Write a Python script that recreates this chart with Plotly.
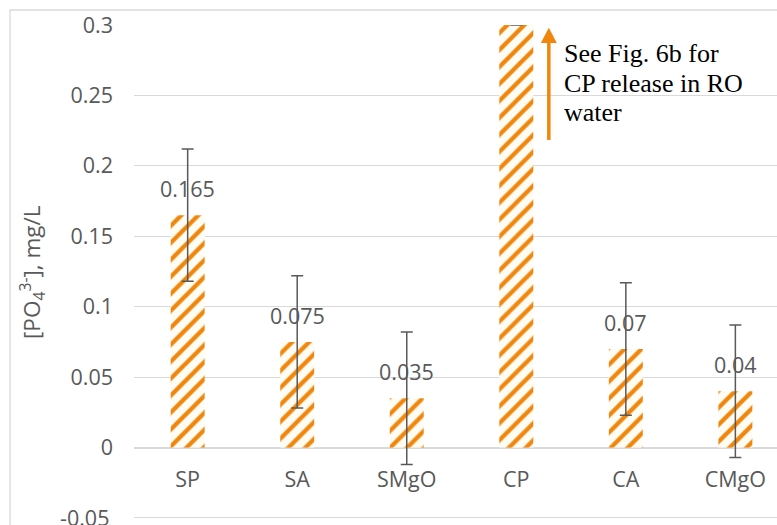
import plotly.graph_objects as go

# Phosphate release per sample type
categories = ["SP", "SA", "SMgO", "CP", "CA", "CMgO"]
po4_values = [0.165, 0.075, 0.035, 0.3, 0.07, 0.04]
po4_error = [0.047, 0.047, 0.047, None, 0.047, 0.047]
value_labels = ["0.165", "0.075", "0.035", None, "0.07", "0.04"]

y_tickvals = [-0.05, 0, 0.05, 0.1, 0.15, 0.2, 0.25, 0.3]
y_ticktext = ["-0.05", "0", "0.05", "0.1", "0.15", "0.2", "0.25", "0.3"]

note_lines = ["See Fig. 6b for", "CP release in RO", "water"]

ORANGE = "#F0860C"
GREY_TEXT = "#595959"
GRID = "#D9D9D9"
FONT = "Open Sans"
Y_MIN, Y_MAX = -0.055, 0.3
TICK_FONT = dict(family=FONT, size=21.5, color=GREY_TEXT)

fig = go.Figure()

fig.add_trace(go.Bar(
    x=list(range(len(categories))),
    y=po4_values,
    width=0.31,
    marker=dict(
        color="#FFFDF3",
        line=dict(width=0),
        pattern=dict(shape="/", size=12, solidity=0.36,
                     fgcolor=ORANGE, bgcolor="#FFFDF3", fillmode="replace"),
    ),
    error_y=dict(type="data", array=po4_error, visible=True,
                 color=GREY_TEXT, thickness=1.5, width=6),
    showlegend=False,
))

# value labels above bars
for i, (v, lab) in enumerate(zip(po4_values, value_labels)):
    if lab is None:
        continue
    fig.add_annotation(x=i, y=v, xref="x", yref="y", text=lab, showarrow=False,
                       yanchor="bottom", yshift=10, font=TICK_FONT)

# the lowest tick label sits at the bottom edge of the page, so it is placed
# as an annotation (plotly hides tick labels that overflow the page)
shown_ticktext = [t if v != min(y_tickvals) else "" for v, t in zip(y_tickvals, y_ticktext)]
fig.add_annotation(x=(111 - 134) / 643, y=min(y_tickvals), xref="paper", yref="y",
                   text=y_ticktext[y_tickvals.index(min(y_tickvals))],
                   showarrow=False, xanchor="right", yanchor="middle", font=TICK_FONT)

# arrow pointing up beside the CP bar: shaft + head
arrow_x = 3.297
fig.add_shape(type="line", xref="x", yref="y",
              x0=arrow_x, x1=arrow_x, y0=0.2184, y1=0.289,
              line=dict(color=ORANGE, width=3.5))
fig.add_shape(type="path", xref="x", yref="y",
              path=f"M {arrow_x - 0.073} 0.2873 L {arrow_x} 0.298 L {arrow_x + 0.073} 0.2873 Z",
              fillcolor=ORANGE, line=dict(color=ORANGE, width=0))

# note text
plot_h = 500.0
note_px = [53, 83, 113]
for line, py in zip(note_lines, note_px):
    fig.add_annotation(x=0.6656, y=1 - (py - 25) / plot_h, xref="paper", yref="paper",
                       text=line, showarrow=False, xanchor="left", yanchor="middle",
                       font=dict(family="Liberation Serif", size=26, color="#000000"))

# y-axis title
fig.add_annotation(x=-0.1586, y=1 - (272 - 25) / plot_h, xref="paper", yref="paper",
                   text="[PO<sub>4</sub><sup>3-</sup>], mg/L", textangle=-90,
                   showarrow=False, xanchor="center", yanchor="middle",
                   font=dict(family=FONT, size=22.5, color=GREY_TEXT))

# chart-area border
fig.add_shape(type="rect", xref="paper", yref="paper",
              x0=-0.1928, y0=-0.2, x1=1.2, y1=1 + 15 / plot_h,
              line=dict(color=GRID, width=1.3), fillcolor="rgba(0,0,0,0)", layer="below")

fig.update_layout(
    width=777, height=525,
    margin=dict(l=134, r=0, t=25, b=0),
    paper_bgcolor="white", plot_bgcolor="white",
    xaxis=dict(
        range=[-0.49, 5.38],
        tickvals=list(range(len(categories))), ticktext=categories,
        showgrid=False, zeroline=False, showline=False, ticks="",
        anchor="free", position=(0 - Y_MIN) / (Y_MAX - Y_MIN), ticklabelstandoff=17,
        tickfont=TICK_FONT,
    ),
    yaxis=dict(
        range=[Y_MIN, Y_MAX],
        tickvals=y_tickvals, ticktext=shown_ticktext,
        showgrid=True, gridcolor=GRID, gridwidth=1.3,
        zeroline=True, zerolinecolor=GRID, zerolinewidth=1.6,
        showline=False, ticks="", ticklabelstandoff=20,
        tickfont=TICK_FONT,
    ),
)

fig.write_html("out.html")
